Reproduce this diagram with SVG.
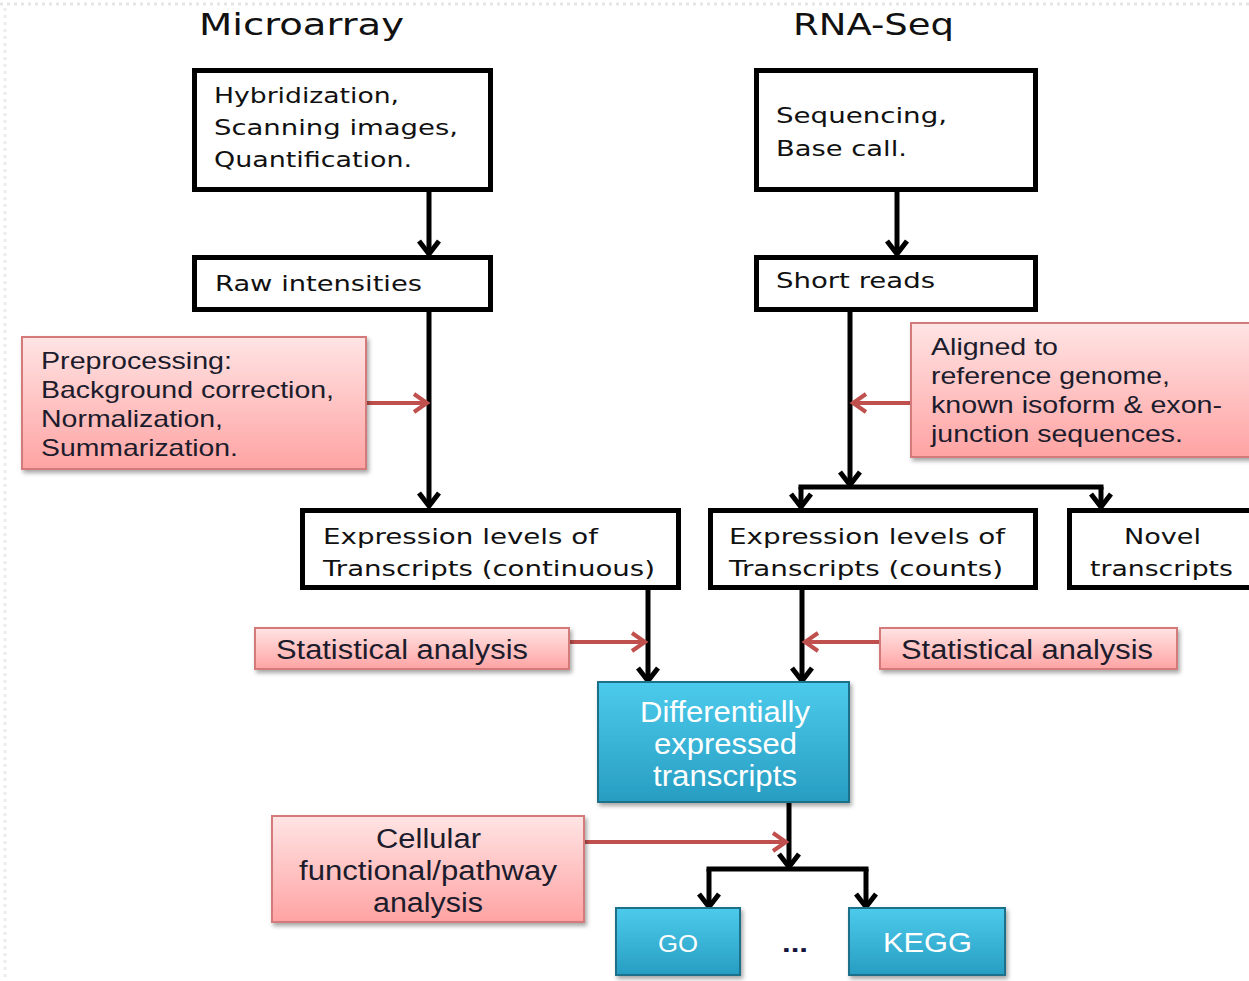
<svg xmlns="http://www.w3.org/2000/svg" width="1249" height="981" viewBox="0 0 1249 981">
<style>
.bx{fill:#fff;stroke:#000;stroke-width:5}
.bt{font-family:"DejaVu Sans",Verdana,sans-serif;font-size:22px;fill:#111}
.ttl{font-family:"DejaVu Sans",Verdana,sans-serif;font-size:30px;fill:#111}
.pk{fill:url(#pinkG);stroke:#d47a7a;stroke-width:2;filter:url(#sh)}
.pt{font-family:"Liberation Sans",Arial,sans-serif;font-size:24px;fill:#1c1c2c}
.pt2{font-family:"Liberation Sans",Arial,sans-serif;font-size:27px;fill:#1c1c2c}
.bl{fill:url(#blueG);stroke:#1d6f8a;stroke-width:2;filter:url(#sh)}
.wt{font-family:"Liberation Sans",Arial,sans-serif;fill:#fff}
.k{fill:none;stroke:#000;stroke-width:5}
.r{fill:none;stroke:#c0504d;stroke-width:4}
</style>
<defs>
<linearGradient id="pinkG" x1="0" y1="0" x2="0" y2="1">
<stop offset="0" stop-color="#ffe4e4"/>
<stop offset="1" stop-color="#ffa3a3"/>
</linearGradient>
<linearGradient id="blueG" x1="0" y1="0" x2="0" y2="1">
<stop offset="0" stop-color="#4ccbec"/>
<stop offset="1" stop-color="#279dc2"/>
</linearGradient>
<filter id="sh" x="-10%" y="-10%" width="120%" height="130%">
<feDropShadow dx="2" dy="3" stdDeviation="2" flood-color="#000" flood-opacity="0.35"/>
</filter>
<marker id="ak" markerUnits="userSpaceOnUse" markerWidth="26" markerHeight="26" viewBox="0 0 26 26" refX="21" refY="13" orient="auto">
<path d="M8,3 L21,13 L8,23" fill="none" stroke="#000" stroke-width="5"/>
</marker>
<marker id="ar" markerUnits="userSpaceOnUse" markerWidth="24" markerHeight="24" viewBox="0 0 24 24" refX="19" refY="12" orient="auto">
<path d="M6,3 L19,12 L6,21" fill="none" stroke="#c0504d" stroke-width="4"/>
</marker>
</defs>
<rect width="1249" height="981" fill="#fff"/>
<line x1="0" y1="4" x2="1249" y2="4" stroke="#e6e6e6" stroke-width="3" stroke-dasharray="3 4"/>
<line x1="5" y1="8" x2="5" y2="981" stroke="#ececec" stroke-width="3" stroke-dasharray="3 4"/>

<text class="ttl" x="199" y="35" textLength="205" lengthAdjust="spacingAndGlyphs">Microarray</text>
<text class="ttl" x="793" y="35" textLength="161" lengthAdjust="spacingAndGlyphs">RNA-Seq</text>

<g id="connectors">
<path class="k" d="M429,192 L429,254" marker-end="url(#ak)"/>
<path class="k" d="M429,312 L429,506" marker-end="url(#ak)"/>
<path class="k" d="M897,192 L897,254" marker-end="url(#ak)"/>
<path class="k" d="M850,312 L850,485" marker-end="url(#ak)"/>
<path class="k" d="M798.5,487 L1103.5,487"/>
<path class="k" d="M801,487 L801,507" marker-end="url(#ak)"/>
<path class="k" d="M1101,487 L1101,507" marker-end="url(#ak)"/>
<path class="k" d="M648,590 L648,681" marker-end="url(#ak)"/>
<path class="k" d="M802,590 L802,681" marker-end="url(#ak)"/>
<path class="k" d="M789,803 L789,867" marker-end="url(#ak)"/>
<path class="k" d="M706.5,869 L868.5,869"/>
<path class="k" d="M709,869 L709,907" marker-end="url(#ak)"/>
<path class="k" d="M866,869 L866,907" marker-end="url(#ak)"/>
<path class="r" d="M367,403 L427,403" marker-end="url(#ar)"/>
<path class="r" d="M911,403 L853,403" marker-end="url(#ar)"/>
<path class="r" d="M570,642 L645,642" marker-end="url(#ar)"/>
<path class="r" d="M880,642 L805,642" marker-end="url(#ar)"/>
<path class="r" d="M585,842 L786,842" marker-end="url(#ar)"/>
</g>

<g id="n-hyb">
<rect class="bx" x="194.5" y="70.5" width="296" height="119"/>
<text class="bt" x="214" y="103" textLength="185" lengthAdjust="spacingAndGlyphs">Hybridization,</text>
<text class="bt" x="214" y="135" textLength="244" lengthAdjust="spacingAndGlyphs">Scanning images,</text>
<text class="bt" x="214" y="167" textLength="198" lengthAdjust="spacingAndGlyphs">Quantification.</text>
</g>
<g id="n-raw">
<rect class="bx" x="194.5" y="257.5" width="296" height="52"/>
<text class="bt" x="215" y="291" textLength="207" lengthAdjust="spacingAndGlyphs">Raw intensities</text>
</g>
<g id="n-seq">
<rect class="bx" x="756.5" y="70.5" width="279" height="119"/>
<text class="bt" x="776" y="123" textLength="171" lengthAdjust="spacingAndGlyphs">Sequencing,</text>
<text class="bt" x="776" y="156" textLength="131" lengthAdjust="spacingAndGlyphs">Base call.</text>
</g>
<g id="n-short">
<rect class="bx" x="756.5" y="257.5" width="279" height="52"/>
<text class="bt" x="776" y="288" textLength="159" lengthAdjust="spacingAndGlyphs">Short reads</text>
</g>
<g id="n-expr-cont">
<rect class="bx" x="302.5" y="510.5" width="376" height="77"/>
<text class="bt" x="323" y="544" textLength="275" lengthAdjust="spacingAndGlyphs">Expression levels of</text>
<text class="bt" x="323" y="576" textLength="332" lengthAdjust="spacingAndGlyphs">Transcripts (continuous)</text>
</g>
<g id="n-expr-counts">
<rect class="bx" x="710.5" y="510.5" width="325" height="77"/>
<text class="bt" x="729" y="544" textLength="276" lengthAdjust="spacingAndGlyphs">Expression levels of</text>
<text class="bt" x="729" y="576" textLength="274" lengthAdjust="spacingAndGlyphs">Transcripts (counts)</text>
</g>
<g id="n-novel">
<rect class="bx" x="1069.5" y="510.5" width="200" height="77"/>
<text class="bt" x="1124" y="544" textLength="77" lengthAdjust="spacingAndGlyphs">Novel</text>
<text class="bt" x="1090" y="576" textLength="143" lengthAdjust="spacingAndGlyphs">transcripts</text>
</g>

<g id="n-preproc">
<rect class="pk" x="22" y="337" width="344" height="132"/>
<text class="pt" x="41" y="369" textLength="191" lengthAdjust="spacingAndGlyphs">Preprocessing:</text>
<text class="pt" x="41" y="398" textLength="293" lengthAdjust="spacingAndGlyphs">Background correction,</text>
<text class="pt" x="41" y="427" textLength="182" lengthAdjust="spacingAndGlyphs">Normalization,</text>
<text class="pt" x="41" y="456" textLength="197" lengthAdjust="spacingAndGlyphs">Summarization.</text>
</g>
<g id="n-aligned">
<rect class="pk" x="911" y="323" width="350" height="134"/>
<text class="pt" x="931" y="355" textLength="127" lengthAdjust="spacingAndGlyphs">Aligned to</text>
<text class="pt" x="931" y="384" textLength="239" lengthAdjust="spacingAndGlyphs">reference genome,</text>
<text class="pt" x="931" y="413" textLength="291" lengthAdjust="spacingAndGlyphs">known isoform &amp; exon-</text>
<text class="pt" x="931" y="442" textLength="252" lengthAdjust="spacingAndGlyphs">junction sequences.</text>
</g>
<g id="n-stat-left">
<rect class="pk" x="255" y="628" width="314" height="41"/>
<text class="pt2" x="276" y="659" textLength="252" lengthAdjust="spacingAndGlyphs">Statistical analysis</text>
</g>
<g id="n-stat-right">
<rect class="pk" x="880" y="628" width="297" height="41"/>
<text class="pt2" x="901" y="659" textLength="252" lengthAdjust="spacingAndGlyphs">Statistical analysis</text>
</g>
<g id="n-cellular">
<rect class="pk" x="272" y="816" width="312" height="106"/>
<text class="pt2" x="376" y="848" textLength="105" lengthAdjust="spacingAndGlyphs">Cellular</text>
<text class="pt2" x="299" y="880" textLength="258" lengthAdjust="spacingAndGlyphs">functional/pathway</text>
<text class="pt2" x="373" y="912" textLength="110" lengthAdjust="spacingAndGlyphs">analysis</text>
</g>

<g id="n-de">
<rect class="bl" x="598" y="682" width="251" height="120"/>
<text class="wt" x="640" y="722" font-size="29" textLength="170" lengthAdjust="spacingAndGlyphs">Differentially</text>
<text class="wt" x="654" y="754" font-size="29" textLength="143" lengthAdjust="spacingAndGlyphs">expressed</text>
<text class="wt" x="653" y="786" font-size="29" textLength="144" lengthAdjust="spacingAndGlyphs">transcripts</text>
</g>
<g id="n-go">
<rect class="bl" x="616" y="908" width="124" height="67"/>
<text class="wt" x="658" y="952" font-size="23" textLength="40" lengthAdjust="spacingAndGlyphs">GO</text>
</g>
<g id="n-dots">
<text x="782" y="952" font-family="Liberation Sans, Arial, sans-serif" font-size="26" font-weight="bold" fill="#14143c" textLength="26" lengthAdjust="spacingAndGlyphs">...</text>
</g>
<g id="n-kegg">
<rect class="bl" x="849" y="908" width="156" height="67"/>
<text class="wt" x="883" y="952" font-size="28" textLength="89" lengthAdjust="spacingAndGlyphs">KEGG</text>
</g>
</svg>
